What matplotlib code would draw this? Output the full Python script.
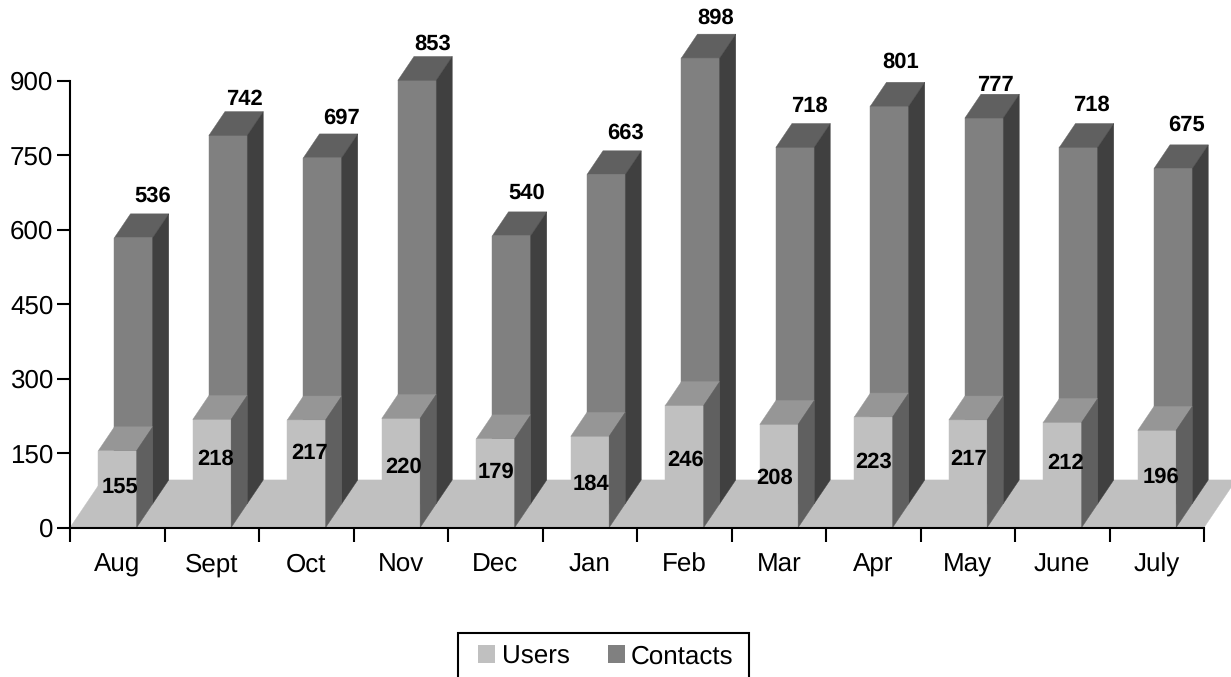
# Users and Contacts per month, drawn as fake 3D columns

import matplotlib
matplotlib.use('Agg')
import matplotlib.pyplot as plt
from matplotlib.patches import Patch, Polygon, Rectangle

plt.rcParams['font.family'] = ['Liberation Sans', 'DejaVu Sans']
plt.rcParams['text.hinting'] = 'none'
plt.rcParams['text.hinting_factor'] = 1

# Step 1: Data
months = ['Aug', 'Sept', 'Oct', 'Nov', 'Dec', 'Jan', 'Feb', 'Mar', 'Apr', 'May', 'June', 'July']
users = [155, 218, 217, 220, 179, 184, 246, 208, 223, 217, 212, 196]
contacts = [536, 742, 697, 853, 540, 663, 898, 718, 801, 777, 718, 675]
y_ticks = [0, 150, 300, 450, 600, 750, 900]

# label offsets from the top of each column, in pixels
users_dx = [2.5, 4, 3.5, 3, 0, 1, 1.5, -4, 0, 1, 3.5, 4]
users_dy = [-36, -39.5, -33, -48.5, -33, -47.7, -55, -53.6, -45, -39, -40.6, -46.6]
contacts_dx = [19.5, 16, 18.5, 16, 15.5, 19, 15.5, 14, 11.5, 11, 12.5, 13]
contacts_dy = [42, 36, 40, 36, 43, 42, 40, 41, 44.5, 33, 42, 44]

# Step 2: Figure and axes
W, H = 1231, 677
fig = plt.figure(figsize=(W / 100, H / 100), dpi=100)
ax = fig.add_axes([70 / W, 1 - 527.6 / H, 1134 / W, 446.8 / H])
ax.set_xlim(0, 12)
ax.set_ylim(0, 900)

# bar geometry in data units
bar_left = 0.3
bar_w = 0.405
depth_x = 0.17
depth_y = 48


def poly(points, color, z):
    ax.add_patch(Polygon(points, closed=True, facecolor=color, edgecolor=color,
                         linewidth=0.3, clip_on=False, zorder=z))


def column(x, base, value, front, top, side, z):
    x2 = x + bar_w
    y2 = base + value
    poly([(x, base), (x2, base), (x2, y2), (x, y2)], front, z)
    poly([(x, y2), (x2, y2), (x2 + depth_x, y2 + depth_y), (x + depth_x, y2 + depth_y)], top, z)
    poly([(x2, base), (x2 + depth_x, base + depth_y), (x2 + depth_x, y2 + depth_y), (x2, y2)], side, z)


# Step 3: Floor, then columns
poly([(0, 0), (12, 0), (12 + 2 * depth_x, 2 * depth_y), (2 * depth_x, 2 * depth_y)], '#c0c0c0', 1)

for i in range(len(months)):
    column(i + bar_left + depth_x, depth_y, contacts[i], '#808080', '#606060', '#404040', 2)
    column(i + bar_left, 0, users[i], '#c0c0c0', '#969696', '#606060', 3)

# Step 4: Value labels
for i in range(len(months)):
    ax.annotate(str(users[i]), xy=(i + bar_left + bar_w / 2, users[i]),
                xytext=(users_dx[i], users_dy[i]), textcoords='offset pixels',
                ha='center', va='center', fontsize=16, fontweight='bold', zorder=5,
                annotation_clip=False)
    ax.annotate(str(contacts[i]), xy=(i + bar_left + depth_x + bar_w / 2, contacts[i] + depth_y),
                xytext=(contacts_dx[i], contacts_dy[i]), textcoords='offset pixels',
                ha='center', va='center', fontsize=16, fontweight='bold', zorder=5,
                annotation_clip=False)

# Step 5: Axes styling
for name in ['top', 'right']:
    ax.spines[name].set_visible(False)
for name in ['left', 'bottom']:
    ax.spines[name].set_linewidth(1.5)
    ax.spines[name].set_zorder(4)

ax.set_yticks(y_ticks)
ax.tick_params(axis='y', length=9.5, width=1.5, pad=2.5, labelsize=19)
ax.set_xticks(range(len(months) + 1))
ax.set_xticklabels([])
ax.tick_params(axis='x', which='major', length=10, width=1.5)
ax.set_xticks([i + 0.5 for i in range(len(months))], months, minor=True)
ax.tick_params(axis='x', which='minor', length=0, pad=31.5, labelsize=19)
for label in ax.get_xticklabels(minor=True):
    label.set_verticalalignment('baseline')

# Step 6: Legend, its box runs off the bottom of the picture
fig.add_artist(Rectangle((458 / W, -0.02), 291 / W, 0.02 + 1 - 633.5 / H, transform=fig.transFigure,
                         facecolor='white', edgecolor='black', linewidth=1.5))
handles = [Patch(facecolor='#c0c0c0', label='Users'), Patch(facecolor='#808080', label='Contacts')]
fig.legend(handles=handles, ncol=2, frameon=False, fontsize=19, loc='center',
           bbox_to_anchor=(606 / W, 1 - 656.6 / H), handlelength=0.645, handleheight=0.645,
           handletextpad=0.23, columnspacing=1.46)

fig.savefig('out.png', dpi=100)
